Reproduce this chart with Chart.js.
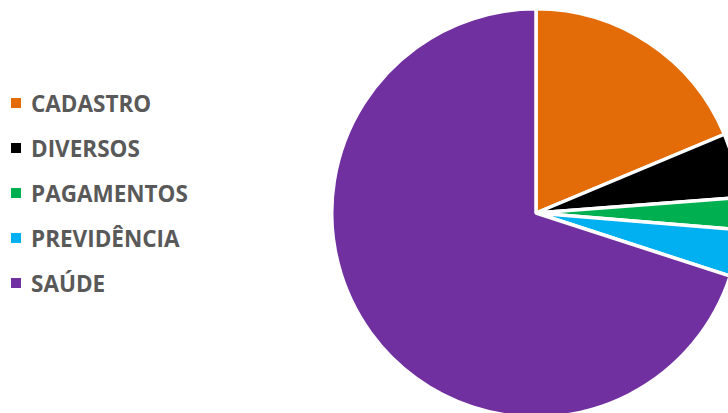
<!DOCTYPE html>
<html><head><meta charset="utf-8">
<script src="https://cdn.jsdelivr.net/npm/chart.js@4/dist/chart.umd.min.js"></script>
<style>
html,body{margin:0;padding:0;width:728px;height:413px;overflow:hidden;background:#fff;}
#wrap{position:absolute;left:330px;top:7px;width:412px;height:412px;}
#legend{position:absolute;left:11px;top:0;font-family:"Open Sans",sans-serif;font-weight:700;font-size:22.5px;color:#595959;}
.item{position:absolute;left:0;white-space:nowrap;display:flex;align-items:center;height:24px;}
.sw{width:10px;height:10px;margin-right:10px;}
</style></head><body>
<div id="legend"></div>
<div id="wrap"><canvas id="c" width="412" height="412"></canvas></div>
<script>
const categories = ["CADASTRO","DIVERSOS","PAGAMENTOS","PREVIDÊNCIA","SAÚDE"];
const values = [18.7, 5.1, 2.5, 3.7, 70.0];
const colors = ["#E36C09","#000000","#00B050","#00B0F0","#7030A0"];

const leg = document.getElementById('legend');
categories.forEach((c,i)=>{
  const d=document.createElement('div');d.className='item';
  d.style.top=(91+i*45)+'px';
  d.innerHTML='<span class="sw" style="background:'+colors[i]+'"></span><span>'+c+'</span>';
  leg.appendChild(d);
});

new Chart(document.getElementById('c'),{
  type:'pie',
  data:{labels:categories,datasets:[{data:values,backgroundColor:colors,borderColor:'#ffffff',borderWidth:3.5}]},
  options:{responsive:false,animation:false,layout:{padding:0},
    plugins:{legend:{display:false},tooltip:{enabled:false}}}
});
</script>
</body></html>
